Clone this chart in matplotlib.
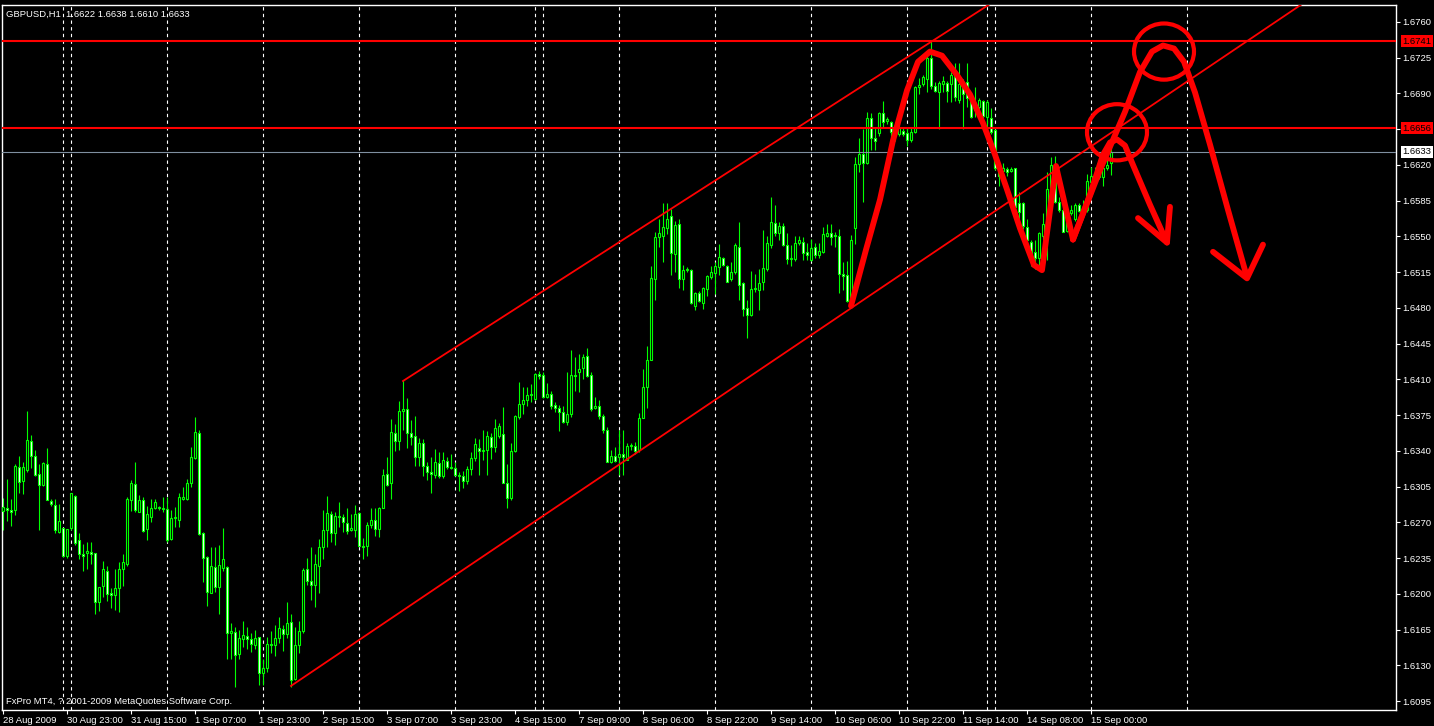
import matplotlib
matplotlib.use("Agg")
import matplotlib.pyplot as plt
from matplotlib.patches import Ellipse
import numpy as np

# GBPUSD H1 candles, 28 Aug 2009 .. 15 Sep 2009 06:00 (bar index 0..277)
opens = [
    1.6281, 1.6284, 1.6282, 1.6282, 1.6324, 1.6311, 1.6321, 1.6350, 1.6335, 1.6317,
    1.6307, 1.6327, 1.6291, 1.6287, 1.6261, 1.6265, 1.6237, 1.6265, 1.6296, 1.6253,
    1.6239, 1.6240, 1.6241, 1.6240, 1.6192, 1.6208, 1.6222, 1.6201, 1.6199, 1.6206,
    1.6224, 1.6229, 1.6292, 1.6308, 1.6280, 1.6292, 1.6264, 1.6275, 1.6284, 1.6285,
    1.6284, 1.6283, 1.6254, 1.6274, 1.6272, 1.6293, 1.6293, 1.6309, 1.6333, 1.6358,
    1.6260, 1.6236, 1.6201, 1.6226, 1.6207, 1.6225, 1.6226, 1.6162, 1.6163, 1.6141,
    1.6156, 1.6159, 1.6156, 1.6150, 1.6158, 1.6123, 1.6128, 1.6151, 1.6150, 1.6157,
    1.6166, 1.6161, 1.6173, 1.6117, 1.6150, 1.6164, 1.6224, 1.6213, 1.6209, 1.6227,
    1.6246, 1.6263, 1.6278, 1.6260, 1.6276, 1.6275, 1.6269, 1.6263, 1.6263, 1.6279,
    1.6247, 1.6247, 1.6268, 1.6272, 1.6264, 1.6284, 1.6317, 1.6309, 1.6358, 1.6350,
    1.6379, 1.6381, 1.6358, 1.6355, 1.6334, 1.6348, 1.6325, 1.6319, 1.6316, 1.6328,
    1.6315, 1.6330, 1.6324, 1.6323, 1.6316, 1.6315, 1.6311, 1.6322, 1.6333, 1.6343,
    1.6340, 1.6341, 1.6354, 1.6344, 1.6355, 1.6357, 1.6309, 1.6294, 1.6340, 1.6373,
    1.6386, 1.6390, 1.6395, 1.6391, 1.6415, 1.6414, 1.6393, 1.6396, 1.6385, 1.6382,
    1.6378, 1.6368, 1.6376, 1.6414, 1.6417, 1.6421, 1.6433, 1.6414, 1.6382, 1.6384,
    1.6374, 1.6361, 1.6329, 1.6335, 1.6334, 1.6337, 1.6331, 1.6345, 1.6345, 1.6341,
    1.6372, 1.6403, 1.6429, 1.6508, 1.6549, 1.6550, 1.6558, 1.6570, 1.6533, 1.6562,
    1.6508, 1.6517, 1.6517, 1.6482, 1.6495, 1.6485, 1.6499, 1.6510, 1.6514, 1.6520,
    1.6529, 1.6521, 1.6508, 1.6515, 1.6540, 1.6504, 1.6480, 1.6473, 1.6499, 1.6498,
    1.6505, 1.6518, 1.6542, 1.6563, 1.6553, 1.6560, 1.6542, 1.6528, 1.6528, 1.6544,
    1.6545, 1.6535, 1.6527, 1.6540, 1.6532, 1.6535, 1.6550, 1.6553, 1.6551, 1.6550,
    1.6513, 1.6512, 1.6488, 1.6558, 1.6621, 1.6631, 1.6622, 1.6666, 1.6646, 1.6651,
    1.6671, 1.6663, 1.6662, 1.6657, 1.6650, 1.6653, 1.6651, 1.6644, 1.6652, 1.6696,
    1.6699, 1.6704, 1.6725, 1.6697, 1.6691, 1.6699, 1.6700, 1.6699, 1.6707, 1.6684,
    1.6697, 1.6701, 1.6687, 1.6674, 1.6677, 1.6683, 1.6667, 1.6666, 1.6654, 1.6618,
    1.6614, 1.6616, 1.6614, 1.6617, 1.6583, 1.6583, 1.6559, 1.6545, 1.6535, 1.6529,
    1.6550, 1.6562, 1.6596, 1.6612, 1.6584, 1.6576, 1.6555, 1.6573, 1.6567, 1.6581,
    1.6574, 1.6576, 1.6603, 1.6606, 1.6608, 1.6608, 1.6617, 1.6622,
]
highs = [
    1.6294, 1.6313, 1.6293, 1.6327, 1.6335, 1.6329, 1.6379, 1.6356, 1.6341, 1.6327,
    1.6329, 1.6343, 1.6293, 1.6293, 1.6288, 1.6265, 1.6264, 1.6299, 1.6297, 1.6260,
    1.6249, 1.6251, 1.6251, 1.6240, 1.6207, 1.6232, 1.6227, 1.6206, 1.6224, 1.6231,
    1.6239, 1.6295, 1.6312, 1.6329, 1.6297, 1.6295, 1.6286, 1.6293, 1.6293, 1.6286,
    1.6295, 1.6295, 1.6282, 1.6285, 1.6299, 1.6305, 1.6313, 1.6344, 1.6373, 1.6361,
    1.6261, 1.6237, 1.6246, 1.6246, 1.6248, 1.6265, 1.6227, 1.6172, 1.6168, 1.6165,
    1.6174, 1.6168, 1.6162, 1.6165, 1.6158, 1.6136, 1.6158, 1.6164, 1.6170, 1.6177,
    1.6170, 1.6192, 1.6180, 1.6168, 1.6174, 1.6225, 1.6235, 1.6246, 1.6239, 1.6254,
    1.6282, 1.6296, 1.6281, 1.6280, 1.6290, 1.6278, 1.6284, 1.6278, 1.6287, 1.6280,
    1.6255, 1.6270, 1.6284, 1.6284, 1.6285, 1.6322, 1.6334, 1.6371, 1.6366, 1.6389,
    1.6409, 1.6392, 1.6370, 1.6374, 1.6353, 1.6352, 1.6329, 1.6334, 1.6342, 1.6339,
    1.6339, 1.6334, 1.6337, 1.6329, 1.6319, 1.6320, 1.6325, 1.6339, 1.6353, 1.6352,
    1.6361, 1.6360, 1.6358, 1.6371, 1.6367, 1.6383, 1.6327, 1.6348, 1.6375, 1.6408,
    1.6403, 1.6403, 1.6406, 1.6416, 1.6418, 1.6417, 1.6407, 1.6399, 1.6388, 1.6385,
    1.6384, 1.6417, 1.6439, 1.6432, 1.6435, 1.6435, 1.6441, 1.6417, 1.6393, 1.6390,
    1.6376, 1.6363, 1.6341, 1.6344, 1.6361, 1.6361, 1.6348, 1.6348, 1.6349, 1.6377,
    1.6420, 1.6443, 1.6521, 1.6554, 1.6567, 1.6583, 1.6583, 1.6577, 1.6565, 1.6567,
    1.6522, 1.6520, 1.6518, 1.6496, 1.6497, 1.6501, 1.6512, 1.6521, 1.6525, 1.6543,
    1.6530, 1.6522, 1.6525, 1.6544, 1.6564, 1.6505, 1.6488, 1.6516, 1.6513, 1.6518,
    1.6556, 1.6550, 1.6589, 1.6581, 1.6564, 1.6563, 1.6553, 1.6542, 1.6550, 1.6550,
    1.6549, 1.6544, 1.6548, 1.6544, 1.6544, 1.6559, 1.6562, 1.6562, 1.6554, 1.6557,
    1.6525, 1.6526, 1.6551, 1.6628, 1.6646, 1.6655, 1.6672, 1.6671, 1.6657, 1.6672,
    1.6683, 1.6667, 1.6663, 1.6659, 1.6662, 1.6657, 1.6657, 1.6657, 1.6697, 1.6705,
    1.6708, 1.6730, 1.6741, 1.6701, 1.6702, 1.6707, 1.6702, 1.6711, 1.6720, 1.6720,
    1.6704, 1.6720, 1.6689, 1.6696, 1.6686, 1.6684, 1.6684, 1.6676, 1.6655, 1.6622,
    1.6622, 1.6618, 1.6618, 1.6617, 1.6594, 1.6584, 1.6567, 1.6547, 1.6547, 1.6554,
    1.6573, 1.6613, 1.6628, 1.6629, 1.6589, 1.6579, 1.6573, 1.6581, 1.6583, 1.6583,
    1.6586, 1.6611, 1.6618, 1.6618, 1.6616, 1.6618, 1.6627, 1.6638,
]
lows = [
    1.6263, 1.6271, 1.6267, 1.6277, 1.6299, 1.6298, 1.6319, 1.6323, 1.6315, 1.6263,
    1.6306, 1.6292, 1.6286, 1.6260, 1.6260, 1.6236, 1.6235, 1.6263, 1.6248, 1.6234,
    1.6222, 1.6224, 1.6229, 1.6180, 1.6183, 1.6197, 1.6193, 1.6186, 1.6184, 1.6182,
    1.6208, 1.6227, 1.6281, 1.6280, 1.6280, 1.6261, 1.6253, 1.6270, 1.6283, 1.6282,
    1.6280, 1.6251, 1.6253, 1.6266, 1.6266, 1.6292, 1.6292, 1.6305, 1.6332, 1.6258,
    1.6212, 1.6188, 1.6201, 1.6202, 1.6180, 1.6222, 1.6136, 1.6136, 1.6109, 1.6136,
    1.6148, 1.6146, 1.6143, 1.6146, 1.6111, 1.6111, 1.6124, 1.6142, 1.6139, 1.6152,
    1.6144, 1.6157, 1.6109, 1.6116, 1.6142, 1.6162, 1.6209, 1.6194, 1.6187, 1.6201,
    1.6234, 1.6246, 1.6251, 1.6248, 1.6266, 1.6261, 1.6259, 1.6262, 1.6256, 1.6247,
    1.6234, 1.6237, 1.6265, 1.6257, 1.6256, 1.6284, 1.6306, 1.6293, 1.6340, 1.6341,
    1.6361, 1.6343, 1.6346, 1.6325, 1.6325, 1.6315, 1.6312, 1.6299, 1.6314, 1.6314,
    1.6314, 1.6322, 1.6322, 1.6315, 1.6301, 1.6304, 1.6308, 1.6316, 1.6330, 1.6316,
    1.6331, 1.6316, 1.6332, 1.6339, 1.6353, 1.6309, 1.6284, 1.6292, 1.6339, 1.6371,
    1.6376, 1.6384, 1.6388, 1.6390, 1.6410, 1.6392, 1.6392, 1.6381, 1.6378, 1.6360,
    1.6367, 1.6365, 1.6373, 1.6399, 1.6398, 1.6410, 1.6412, 1.6379, 1.6381, 1.6371,
    1.6358, 1.6329, 1.6328, 1.6329, 1.6316, 1.6316, 1.6331, 1.6341, 1.6337, 1.6339,
    1.6372, 1.6382, 1.6429, 1.6488, 1.6540, 1.6525, 1.6552, 1.6512, 1.6515, 1.6500,
    1.6498, 1.6515, 1.6484, 1.6478, 1.6486, 1.6479, 1.6492, 1.6508, 1.6494, 1.6512,
    1.6521, 1.6505, 1.6506, 1.6513, 1.6488, 1.6472, 1.6451, 1.6472, 1.6496, 1.6478,
    1.6498, 1.6516, 1.6539, 1.6550, 1.6547, 1.6541, 1.6523, 1.6521, 1.6526, 1.6542,
    1.6527, 1.6527, 1.6526, 1.6529, 1.6529, 1.6534, 1.6549, 1.6542, 1.6540, 1.6495,
    1.6498, 1.6486, 1.6482, 1.6543, 1.6613, 1.6584, 1.6621, 1.6635, 1.6635, 1.6648,
    1.6657, 1.6660, 1.6645, 1.6643, 1.6648, 1.6648, 1.6639, 1.6642, 1.6651, 1.6689,
    1.6697, 1.6691, 1.6694, 1.6691, 1.6655, 1.6691, 1.6682, 1.6682, 1.6683, 1.6681,
    1.6655, 1.6677, 1.6666, 1.6667, 1.6672, 1.6666, 1.6655, 1.6650, 1.6615, 1.6599,
    1.6613, 1.6609, 1.6613, 1.6576, 1.6567, 1.6557, 1.6544, 1.6521, 1.6518, 1.6518,
    1.6547, 1.6527, 1.6591, 1.6583, 1.6574, 1.6554, 1.6554, 1.6571, 1.6565, 1.6574,
    1.6573, 1.6574, 1.6599, 1.6604, 1.6606, 1.6599, 1.6615, 1.6610,
]
closes = [
    1.6285, 1.6282, 1.6280, 1.6325, 1.6310, 1.6324, 1.6351, 1.6335, 1.6316, 1.6307,
    1.6328, 1.6292, 1.6288, 1.6263, 1.6271, 1.6237, 1.6264, 1.6299, 1.6250, 1.6239,
    1.6237, 1.6242, 1.6239, 1.6192, 1.6207, 1.6224, 1.6200, 1.6199, 1.6206, 1.6224,
    1.6231, 1.6293, 1.6309, 1.6282, 1.6292, 1.6262, 1.6278, 1.6284, 1.6290, 1.6284,
    1.6283, 1.6253, 1.6274, 1.6275, 1.6295, 1.6295, 1.6309, 1.6334, 1.6359, 1.6259,
    1.6235, 1.6202, 1.6227, 1.6207, 1.6228, 1.6234, 1.6162, 1.6164, 1.6140, 1.6157,
    1.6160, 1.6156, 1.6151, 1.6157, 1.6123, 1.6128, 1.6151, 1.6150, 1.6157, 1.6167,
    1.6161, 1.6172, 1.6116, 1.6150, 1.6164, 1.6223, 1.6213, 1.6209, 1.6229, 1.6246,
    1.6263, 1.6279, 1.6260, 1.6276, 1.6275, 1.6270, 1.6262, 1.6265, 1.6278, 1.6247,
    1.6246, 1.6268, 1.6272, 1.6264, 1.6284, 1.6316, 1.6307, 1.6359, 1.6350, 1.6379,
    1.6381, 1.6358, 1.6354, 1.6334, 1.6348, 1.6325, 1.6319, 1.6317, 1.6329, 1.6315,
    1.6331, 1.6324, 1.6323, 1.6316, 1.6315, 1.6311, 1.6322, 1.6333, 1.6347, 1.6340,
    1.6341, 1.6355, 1.6344, 1.6362, 1.6364, 1.6309, 1.6294, 1.6340, 1.6374, 1.6386,
    1.6390, 1.6395, 1.6396, 1.6415, 1.6413, 1.6393, 1.6396, 1.6384, 1.6382, 1.6378,
    1.6368, 1.6376, 1.6414, 1.6413, 1.6420, 1.6432, 1.6413, 1.6381, 1.6384, 1.6374,
    1.6361, 1.6329, 1.6335, 1.6330, 1.6337, 1.6334, 1.6345, 1.6346, 1.6340, 1.6372,
    1.6403, 1.6429, 1.6509, 1.6549, 1.6553, 1.6559, 1.6567, 1.6534, 1.6561, 1.6508,
    1.6517, 1.6518, 1.6485, 1.6495, 1.6487, 1.6500, 1.6511, 1.6515, 1.6521, 1.6530,
    1.6522, 1.6505, 1.6515, 1.6542, 1.6502, 1.6479, 1.6473, 1.6499, 1.6500, 1.6504,
    1.6519, 1.6544, 1.6564, 1.6553, 1.6560, 1.6542, 1.6528, 1.6529, 1.6544, 1.6547,
    1.6534, 1.6532, 1.6539, 1.6532, 1.6536, 1.6552, 1.6553, 1.6549, 1.6550, 1.6513,
    1.6511, 1.6487, 1.6547, 1.6621, 1.6631, 1.6622, 1.6666, 1.6646, 1.6643, 1.6671,
    1.6662, 1.6665, 1.6652, 1.6650, 1.6656, 1.6650, 1.6644, 1.6652, 1.6696, 1.6698,
    1.6706, 1.6725, 1.6697, 1.6692, 1.6700, 1.6702, 1.6692, 1.6708, 1.6687, 1.6699,
    1.6689, 1.6686, 1.6667, 1.6677, 1.6684, 1.6668, 1.6682, 1.6652, 1.6617, 1.6609,
    1.6617, 1.6613, 1.6616, 1.6579, 1.6574, 1.6560, 1.6547, 1.6534, 1.6529, 1.6553,
    1.6562, 1.6596, 1.6620, 1.6584, 1.6576, 1.6554, 1.6571, 1.6576, 1.6581, 1.6575,
    1.6579, 1.6604, 1.6609, 1.6611, 1.6613, 1.6617, 1.6620, 1.6633,
]

# time axis: a label every 16 bars
time_labels = ["28 Aug 2009", "30 Aug 23:00", "31 Aug 15:00", "1 Sep 07:00", "1 Sep 23:00",
               "2 Sep 15:00", "3 Sep 07:00", "3 Sep 23:00", "4 Sep 15:00", "7 Sep 09:00",
               "8 Sep 06:00", "8 Sep 22:00", "9 Sep 14:00", "10 Sep 06:00", "10 Sep 22:00",
               "11 Sep 14:00", "14 Sep 08:00", "15 Sep 00:00"]
# bars where a new day starts (period separators)
day_starts = [15, 17, 41, 65, 89, 113, 133, 135, 154, 178, 202, 226, 246, 248, 272, 296]

price_ticks = [1.6095, 1.6130, 1.6165, 1.6200, 1.6235, 1.6270, 1.6305, 1.6340, 1.6375,
               1.6410, 1.6445, 1.6480, 1.6515, 1.6550, 1.6585, 1.6620, 1.6655, 1.6690,
               1.6725, 1.6760]
levels = [1.6741, 1.6656]
bid = 1.6633

# trend lines: start bar, start price, slope per bar
channel_lines = [(72, 1.6110, 0.0002641), (100, 1.64085, 0.0002515)]

# hand drawn sketch (bar index, price)
peak_x = [212, 215.75, 219.25, 222.5, 226, 228.75, 231.75, 234.75, 238.5, 241.75, 245, 248,
          251, 254.25, 257.75, 259.75, 263.25, 267.5]
peak_y = [1.6482, 1.6537, 1.6586, 1.6644, 1.6693, 1.6721, 1.6731, 1.6727, 1.6708, 1.6689,
          1.6661, 1.6630, 1.6596, 1.6558, 1.6522, 1.6517, 1.6619, 1.6547]
small_x = [267.5, 271.75, 275, 276.75, 278.5, 280.5, 282.5, 286.75, 291]
small_y = [1.6547, 1.6591, 1.6630, 1.6642, 1.6645, 1.6639, 1.6620, 1.6581, 1.6544]
small_head_x = [283.75, 291, 291.75]
small_head_y = [1.6568, 1.6544, 1.6579]
big_x = [267.5, 274.25, 280.5, 284.25, 287.25, 290, 292.75, 295.25, 298, 301.75, 306.25, 311]
big_y = [1.6547, 1.6615, 1.6672, 1.6711, 1.6731, 1.6737, 1.6734, 1.6721, 1.6691, 1.6640,
         1.6576, 1.6510]
big_head_x = [302.5, 311, 315]
big_head_y = [1.6535, 1.6509, 1.6542]
circles = [(278.5, 1.6652), (290.25, 1.6731)]


def main():
    o = np.array(opens)
    h = np.array(highs)
    l = np.array(lows)
    c = np.array(closes)
    idx = np.arange(len(c))

    lime = "#00ff00"
    font = "Liberation Sans"

    fig = plt.figure(figsize=(14.34, 7.26), dpi=100, facecolor="black")
    ax = fig.add_axes([2 / 1434, 16 / 726, 1394 / 1434, 705 / 726], facecolor="black")

    for d in day_starts:
        ax.axvline(d, color="white", lw=0.8, linestyle=(0, (3, 3)), zorder=1)

    ax.vlines(idx, l, h, colors=lime, lw=0.8, zorder=2)
    fills = np.where(c >= o, "black", "white")
    ax.bar(idx, np.abs(c - o), bottom=np.minimum(o, c), width=0.5, color=fills,
           edgecolor=lime, linewidth=0.8, zorder=3)

    for lv in levels:
        ax.axhline(lv, color="red", lw=1.5, zorder=4)
    ax.axhline(bid, color="#7f8fa0", lw=0.8, zorder=4)

    xs = np.array([0, 360])
    for x0, y0, k in channel_lines:
        xx = np.array([x0, 360])
        ax.plot(xx, y0 + k * (xx - x0), color="red", lw=1.3, zorder=4)

    stroke = dict(color="red", lw=4.2, solid_capstyle="round", solid_joinstyle="round", zorder=5)
    ax.plot(peak_x, peak_y, **stroke)
    ax.plot(small_x, small_y, **stroke)
    ax.plot(small_head_x, small_head_y, **stroke)
    ax.plot(big_x, big_y, **stroke)
    ax.plot(big_head_x, big_head_y, **stroke)
    for cx, cy in circles:
        ax.add_patch(Ellipse((cx, cy), 15, 0.0055, fill=False, edgecolor="red", lw=3, zorder=5))

    ax.set_xlim(-0.25, 348.25)
    ax.set_ylim(1.60864, 1.67766)

    for s in ax.spines.values():
        s.set_color("white")
        s.set_linewidth(1)

    ax.yaxis.tick_right()
    ax.set_yticks(price_ticks)
    ax.set_yticklabels(["%.4f" % p for p in price_ticks])
    ax.set_xticks(np.arange(0, 16 * len(time_labels), 16))
    ax.set_xticklabels(time_labels, ha="left")
    ax.tick_params(colors="white", length=3, width=0.8, labelsize=6.8, pad=1.5)
    for t in ax.get_xticklabels() + ax.get_yticklabels():
        t.set_fontfamily(font)
        t.set_color("white")

    # price boxes on the right scale
    for lv in levels:
        ax.text(1.0045, lv, "%.4f" % lv, transform=ax.get_yaxis_transform(), va="center",
                ha="left", fontsize=6.8, family=font, color="black",
                bbox=dict(boxstyle="square,pad=0.15", fc="red", ec="none"))
    ax.text(1.0045, bid, "%.4f" % bid, transform=ax.get_yaxis_transform(), va="center",
            ha="left", fontsize=6.8, family=font, color="black",
            bbox=dict(boxstyle="square,pad=0.15", fc="white", ec="none"))

    ax.text(0.003, 0.993, "GBPUSD,H1  %.4f %.4f %.4f %.4f" % (o[-1], h[-1], l[-1], c[-1]),
            transform=ax.transAxes, va="top", ha="left", fontsize=6.8, family=font,
            color="white")
    ax.text(0.003, 0.006, "FxPro MT4, ? 2001-2009 MetaQuotes Software Corp.",
            transform=ax.transAxes, va="bottom", ha="left", fontsize=6.8, family=font,
            color="white")

    fig.savefig("out.png", dpi=100, facecolor="black")


if __name__ == '__main__':
    main()
